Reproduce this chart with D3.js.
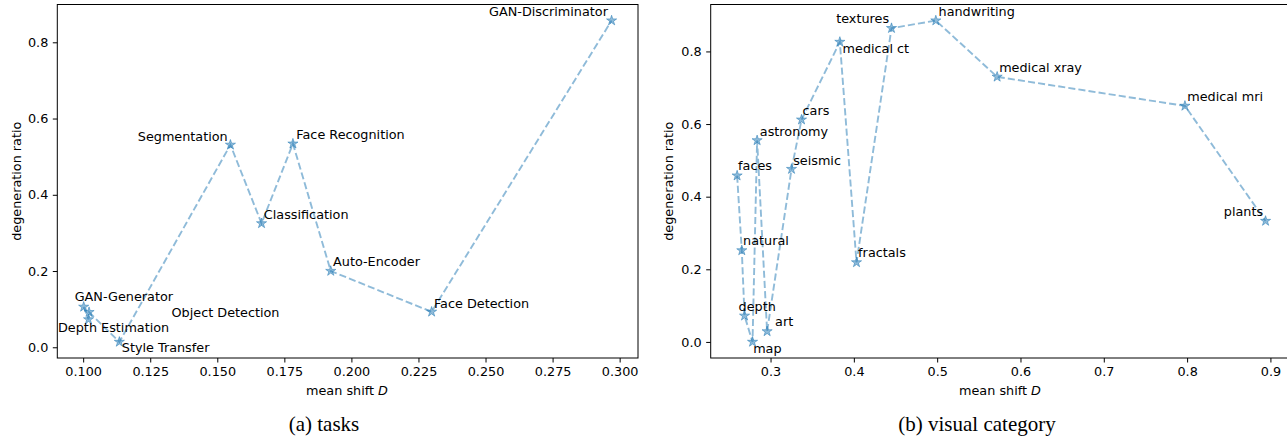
<!DOCTYPE html>
<meta charset="utf-8">
<script src="https://d3js.org/d3.v7.min.js"></script>
<style>
  body { margin: 0; background: #fff; }
  text { font-family: "DejaVu Sans", sans-serif; }
</style>
<div id="my_dataviz"></div>
<script>

// panel (a): tasks
var taskNames = ["GAN-Generator", "Depth Estimation", "Object Detection", "Style Transfer",
  "Segmentation", "Classification", "Face Recognition", "Auto-Encoder", "Face Detection", "GAN-Discriminator"];
var taskShift = [0.1002, 0.1020, 0.1022, 0.1135, 0.1549, 0.1665, 0.1782, 0.1923, 0.2299, 0.2970];
var taskRatio = [0.106, 0.073, 0.092, 0.014, 0.531, 0.325, 0.534, 0.200, 0.093, 0.857];
var taskXTicks = [0.100, 0.125, 0.150, 0.175, 0.200, 0.225, 0.250, 0.275, 0.300];

// panel (b): visual category
var catNames = ["faces", "natural", "depth", "map", "astronomy", "art", "seismic", "cars",
  "medical ct", "fractals", "textures", "handwriting", "medical xray", "medical mri", "plants"];
var catShift = [0.2599, 0.2655, 0.2688, 0.2784, 0.2839, 0.2959, 0.3252, 0.3372,
  0.3832, 0.4032, 0.4452, 0.4984, 0.5720, 0.7974, 0.8942];
var catRatio = [0.458, 0.252, 0.072, 0.000, 0.555, 0.029, 0.476, 0.612,
  0.826, 0.219, 0.864, 0.885, 0.730, 0.650, 0.333];
var catXTicks = [0.3, 0.4, 0.5, 0.6, 0.7, 0.8, 0.9];

var yTicks = [0.0, 0.2, 0.4, 0.6, 0.8];

// where each annotation sits relative to its point (pixels)
var taskLabelPos = {
  "GAN-Generator": [-9, -5.5, "start"], "Depth Estimation": [-30.5, 12.7, "start"],
  "Object Detection": [82.5, 4.6, "start"], "Style Transfer": [2.4, 10.4, "start"],
  "Segmentation": [-2.7, -4, "end"], "Classification": [2.3, -4, "start"],
  "Face Recognition": [3.4, -4.3, "start"], "Auto-Encoder": [2.3, -5, "start"],
  "Face Detection": [2.3, -4, "start"], "GAN-Discriminator": [-3.7, -5, "end"]
};
var catLabelPos = {
  "faces": [1, -5.3, "start"], "natural": [1.3, -5.7, "start"], "depth": [-6, -5, "start"],
  "map": [0.6, 11, "start"], "astronomy": [2.7, -4.7, "start"], "art": [8, -5, "start"],
  "seismic": [1.6, -4.3, "start"], "cars": [1, -5, "start"], "medical ct": [2.7, 11, "start"],
  "fractals": [1.6, -5.4, "start"], "textures": [-2.4, -5, "end"], "handwriting": [2.7, -5, "start"],
  "medical xray": [2, -4.6, "start"], "medical mri": [2.3, -5, "start"], "plants": [-2.4, -4.6, "end"]
};

var svg = d3.select("#my_dataviz")
  .append("svg")
    .attr("width", 1287)
    .attr("height", 438);

var blue = "#1f77b4";

function drawPanel(o) {
  var names = o.names, xs = o.xs, ys = o.ys;

  // matplotlib-like 5% margins around the data
  var xmin = d3.min(xs), xmax = d3.max(xs), ymin = d3.min(ys), ymax = d3.max(ys);
  var mx = (xmax - xmin) * 0.05, my = (ymax - ymin) * 0.05;

  var x = d3.scaleLinear().domain([xmin - mx, xmax + mx]).range([o.left, o.right]);
  var y = d3.scaleLinear().domain([ymin - my, ymax + my]).range([o.bottom, o.top]);

  var g = svg.append("g");

  // x axis
  var xAxis = g.append("g")
    .attr("transform", "translate(0," + o.bottom + ")")
    .call(d3.axisBottom(x).tickValues(o.xTicks).tickFormat(d3.format(o.xFmt)).tickSizeOuter(0).tickSize(4.5).tickPadding(4.5));
  // y axis
  var yAxis = g.append("g")
    .attr("transform", "translate(" + o.left + ",0)")
    .call(d3.axisLeft(y).tickValues(yTicks).tickFormat(d3.format(".1f")).tickSizeOuter(0).tickSize(4.5).tickPadding(4.5));

  [xAxis, yAxis].forEach(function(a) {
    a.select(".domain").remove();
    a.selectAll(".tick line").attr("stroke", "#000").attr("stroke-width", 1);
    a.selectAll(".tick text")
      .attr("fill", "#000")
      .style("font-family", "DejaVu Sans")
      .style("font-size", "12.8px");
  });

  // frame
  g.append("rect")
    .attr("x", o.left)
    .attr("y", o.top)
    .attr("width", o.right - o.left)
    .attr("height", o.bottom - o.top)
    .attr("fill", "none")
    .attr("stroke", "#000")
    .attr("stroke-width", 1);

  // axis titles
  var xt = g.append("text")
    .attr("x", o.xTitleX)
    .attr("y", 394.5)
    .attr("text-anchor", "middle")
    .style("font-size", "12.8px")
    .text("mean shift ");
  xt.append("tspan").style("font-style", "italic").text("D");

  g.append("text")
    .attr("transform", "translate(" + o.yTitleX + "," + ((o.top + o.bottom) / 2) + ") rotate(-90)")
    .attr("text-anchor", "middle")
    .attr("dy", "0.35em")
    .style("font-size", "12.8px")
    .text("degeneration ratio");

  // caption
  g.append("text")
    .attr("x", o.capX)
    .attr("y", 431)
    .attr("text-anchor", "middle")
    .style("font-family", "Liberation Serif, Times New Roman, serif")
    .style("font-size", "21px")
    .text(o.caption);

  var pts = names.map(function(n, i) { return {name: n, x: xs[i], y: ys[i]}; });
  // line is drawn in order of the shift value
  var sorted = pts.slice().sort(function(a, b) { return a.x - b.x; });

  var clip = g.append("clipPath").attr("id", "clip" + o.id)
    .append("rect")
      .attr("x", o.left).attr("y", o.top)
      .attr("width", o.right - o.left).attr("height", o.bottom - o.top);

  var plot = g.append("g").attr("clip-path", "url(#clip" + o.id + ")");

  plot.append("path")
    .datum(sorted)
    .attr("fill", "none")
    .attr("stroke", blue)
    .attr("stroke-opacity", 0.5)
    .attr("stroke-width", 1.9)
    .attr("stroke-dasharray", "7.1,3.1")
    .attr("d", d3.line().x(function(d) { return x(d.x); }).y(function(d) { return y(d.y); }));

  plot.selectAll("path.star")
    .data(pts)
    .enter()
    .append("path")
      .attr("class", "star")
      .attr("transform", function(d) { return "translate(" + x(d.x) + "," + y(d.y) + ")"; })
      .attr("d", d3.symbol().type(d3.symbolStar).size(32))
      .attr("fill", blue)
      .attr("fill-opacity", 0.5)
      .attr("stroke", blue)
      .attr("stroke-opacity", 0.5)
      .attr("stroke-width", 1);

  g.selectAll("text.lbl")
    .data(pts)
    .enter()
    .append("text")
      .attr("class", "lbl")
      .attr("x", function(d) { return x(d.x) + o.labels[d.name][0]; })
      .attr("y", function(d) { return y(d.y) + o.labels[d.name][1]; })
      .attr("text-anchor", function(d) { return o.labels[d.name][2]; })
      .style("font-size", "12.8px")
      .attr("fill", "#000")
      .text(function(d) { return d.name; });
}

drawPanel({
  id: "a", names: taskNames, xs: taskShift, ys: taskRatio, labels: taskLabelPos,
  xTicks: taskXTicks, xFmt: ".3f",
  left: 57.3, right: 638, top: 4.5, bottom: 358,
  xTitleX: 347, yTitleX: 16.7, capX: 324, caption: "(a) tasks"
});

drawPanel({
  id: "b", names: catNames, xs: catShift, ys: catRatio, labels: catLabelPos,
  xTicks: catXTicks, xFmt: ".1f",
  left: 710.7, right: 1292, top: 4.5, bottom: 358,
  xTitleX: 1000, yTitleX: 668.3, capX: 977, caption: "(b) visual category"
});

</script>
